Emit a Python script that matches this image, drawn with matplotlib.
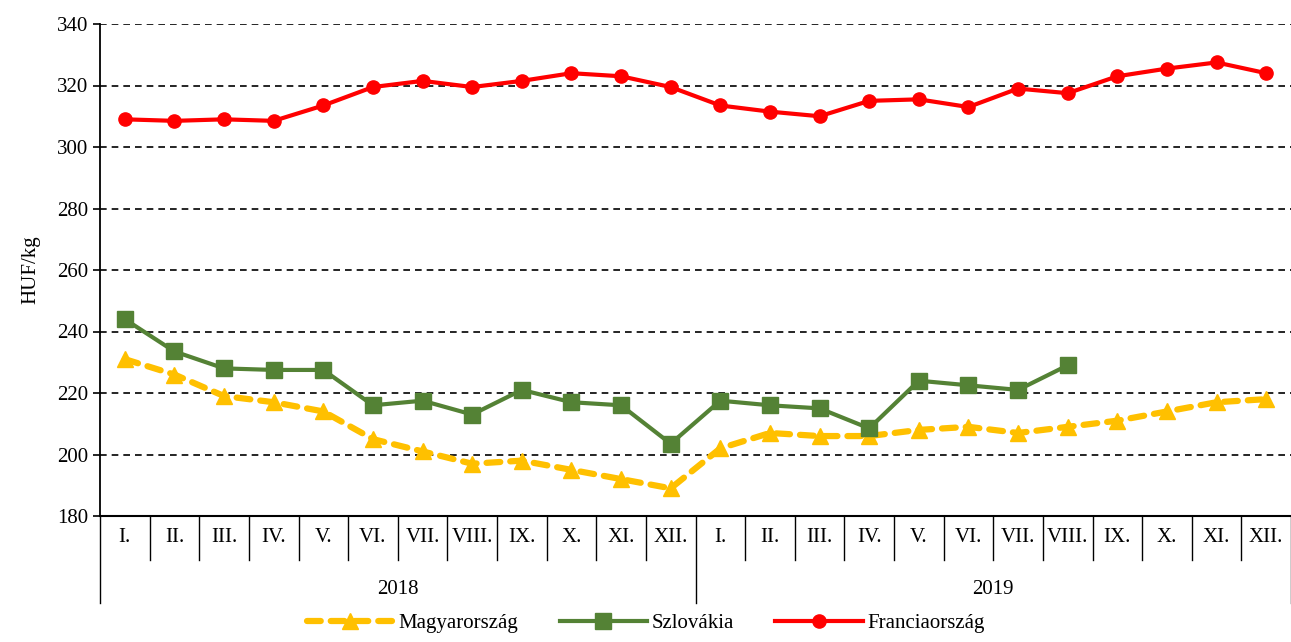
import numpy as np
import matplotlib
matplotlib.use('Agg')
import matplotlib.pyplot as plt
from matplotlib.transforms import blended_transform_factory

plt.rcParams['font.family'] = ['Liberation Serif', 'DejaVu Serif']

months = ['I.', 'II.', 'III.', 'IV.', 'V.', 'VI.', 'VII.', 'VIII.',
          'IX.', 'X.', 'XI.', 'XII.']
years = ['2018', '2019']

magyar = [231, 226, 219, 217, 214, 205, 201, 197, 198, 195, 192, 189,
          202, 207, 206, 206, 208, 209, 207, 209, 211, 214, 217, 218]
szlovakia = [244, 233.5, 228, 227.5, 227.5, 216, 217.5, 213, 221, 217, 216,
             203.5, 217.5, 216, 215, 208.5, 224, 222.5, 221, 229]
francia = [309, 308.5, 309, 308.5, 313.5, 319.5, 321.5, 319.5, 321.5, 324,
           323, 319.5, 313.5, 311.5, 310, 315, 315.5, 313, 319, 317.5, 323,
           325.5, 327.5, 324]

fs = 15

fig = plt.figure(figsize=(12.91, 6.42), dpi=100)
ax = fig.add_axes([100 / 1291, 1 - 516 / 642, 1191 / 1291, 492 / 642])

ax.plot(np.arange(len(magyar)) + 0.5, magyar, color='#FFC000', lw=4.5,
        ls=(0, (2.2, 1.6)), dash_capstyle='round', marker='^', ms=12,
        label='Magyarország')
ax.plot(np.arange(len(szlovakia)) + 0.5, szlovakia, color='#548235', lw=3,
        marker='s', ms=11, label='Szlovákia')
ax.plot(np.arange(len(francia)) + 0.5, francia, color='#FF0000', lw=3,
        marker='o', ms=9.5, label='Franciaország')

ax.set_xlim(0, 24)
ax.set_ylim(180, 340)
ax.set_yticks(np.arange(180, 341, 20))
ax.tick_params(axis='y', labelsize=fs, length=5, width=1.2, direction='out')
for yv in range(200, 341, 20):
    ax.axhline(yv, color='black', lw=1.2, ls=(0, (4, 3)), zorder=0)

for s in ['top', 'right']:
    ax.spines[s].set_visible(False)
ax.spines['left'].set_linewidth(1.3)
ax.spines['bottom'].set_linewidth(1.5)

# two-level category axis
ax.set_xticks([])
trans = blended_transform_factory(ax.transData, ax.transAxes)
month_h = 44 / 492
year_h = 87 / 492
for i in range(25):
    h = year_h if i % 12 == 0 else month_h
    ax.plot([i, i], [0, -h], color='black', lw=1, transform=trans,
            clip_on=False)
for i in range(24):
    ax.text(i + 0.5, -month_h / 2, months[i % 12], transform=trans,
            ha='center', va='center', fontsize=fs)
for j, yr in enumerate(years):
    ax.text(j * 12 + 6, -(74 / 492), yr, transform=trans,
            ha='center', va='center', fontsize=fs)

ax.set_ylabel('HUF/kg', fontsize=fs, labelpad=12)

fig.legend(loc='lower center', ncol=3, frameon=False, fontsize=fs,
           bbox_to_anchor=(0.5, -0.015), handlelength=4.2,
           columnspacing=2.0, handletextpad=0.2)

fig.savefig('out.png', dpi=100)
